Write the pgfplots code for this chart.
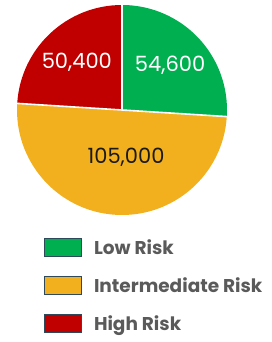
\documentclass[border=0pt]{standalone}
\usepackage{pgfplots}
\usepackage{pgfplotstable}
\pgfplotsset{compat=1.18}
\usepackage{fontspec}
\setmainfont{Poppins}
\definecolor{lowc}{HTML}{00B050}
\definecolor{midc}{HTML}{F3B01E}
\definecolor{highc}{HTML}{C00000}
\definecolor{edgec}{HTML}{2E4A5A}
\definecolor{txtc}{HTML}{5A5A5A}
\definecolor{numc}{HTML}{1A1A1A}

\pgfplotstableread{
name value
Low 54600
Intermediate 105000
High 50400
}\piedata

\begin{document}
\pgfplotstablegetelem{0}{value}\of\piedata \edef\vA{\pgfplotsretval}%
\pgfplotstablegetelem{1}{value}\of\piedata \edef\vB{\pgfplotsretval}%
\pgfplotstablegetelem{2}{value}\of\piedata \edef\vC{\pgfplotsretval}%
\edef\tot{\fpeval{\vA+\vB+\vC}}%
\edef\sA{90}%
\edef\eA{\fpeval{90-360*\vA/\tot}}%
\edef\eB{\fpeval{\eA-360*\vB/\tot}}%
\edef\eC{\fpeval{\eB-360*\vC/\tot}}%
\edef\mA{\fpeval{(\sA+\eA)/2}}%
\edef\mB{\fpeval{(\eA+\eB)/2}}%
\edef\mC{\fpeval{(\eB+\eC)/2}}%
\def\cx{122}\def\cy{232}\def\R{105}%
\edef\lAx{\fpeval{\cx+66*cosd(\mA)}}\edef\lAy{\fpeval{\cy+66*sind(\mA)}}%
\edef\lBx{\fpeval{\cx+7+47*cosd(\mB)}}\edef\lBy{\fpeval{\cy+47*sind(\mB)}}%
\edef\lCx{\fpeval{\cx+66*cosd(\mC)}}\edef\lCy{\fpeval{\cy+66*sind(\mC)}}%
\pgfkeys{/pgf/number format/.cd, fixed, precision=0, 1000 sep={,}, assume math mode=true}%
\begin{tikzpicture}
\begin{axis}[
  width=271pt, height=342pt, scale only axis,
  xmin=0, xmax=271, ymin=0, ymax=342,
  hide axis, clip=false,
  legend style={at={(axis cs:44,104)}, anchor=north west, draw=none, fill=none,
    font=\fontsize{18.5}{18.5}\selectfont\bfseries\color{txtc},
    row sep=19pt, column sep=12pt, inner sep=0pt, outer sep=0pt,
    nodes={inner sep=0pt, anchor=west}},
  legend cell align=left,
  legend image code/.code={\draw[#1] (0pt,-9pt) rectangle (37pt,9pt);},
]
\path (axis cs:0,0) rectangle (axis cs:271,342);
\fill[lowc] (axis cs:\cx,\cy) -- ++(\sA:\R pt) arc[start angle=\sA, end angle=\eA, radius=\R pt] -- cycle;
\fill[midc] (axis cs:\cx,\cy) -- ++(\eA:\R pt) arc[start angle=\eA, end angle=\eB, radius=\R pt] -- cycle;
\fill[highc] (axis cs:\cx,\cy) -- ++(\eB:\R pt) arc[start angle=\eB, end angle=\eC, radius=\R pt] -- cycle;
\draw[white, line width=1.6pt] (axis cs:\cx,\cy) -- ++(\sA:\R pt+1pt);
\draw[white, line width=1.6pt] (axis cs:\cx,\cy) -- ++(\eA:\R pt+1pt);
\draw[white, line width=1.6pt] (axis cs:\cx,\cy) -- ++(\eB:\R pt+1pt);
\node[text=white, font=\fontsize{21}{21}\selectfont] at (axis cs:\lAx,\lAy) {\pgfmathprintnumber{\vA}};
\node[text=numc, font=\fontsize{21}{21}\selectfont] at (axis cs:\lBx,\lBy) {\pgfmathprintnumber{\vB}};
\node[text=white, font=\fontsize{21}{21}\selectfont] at (axis cs:\lCx,\lCy) {\pgfmathprintnumber{\vC}};
\addlegendimage{fill=lowc, draw=edgec, line width=1pt}
\addlegendentry{Low Risk}
\addlegendimage{fill=midc, draw=edgec, line width=1pt}
\addlegendentry{Intermediate Risk}
\addlegendimage{fill=highc, draw=edgec, line width=1pt}
\addlegendentry{High Risk}
\end{axis}
\end{tikzpicture}
\end{document}
